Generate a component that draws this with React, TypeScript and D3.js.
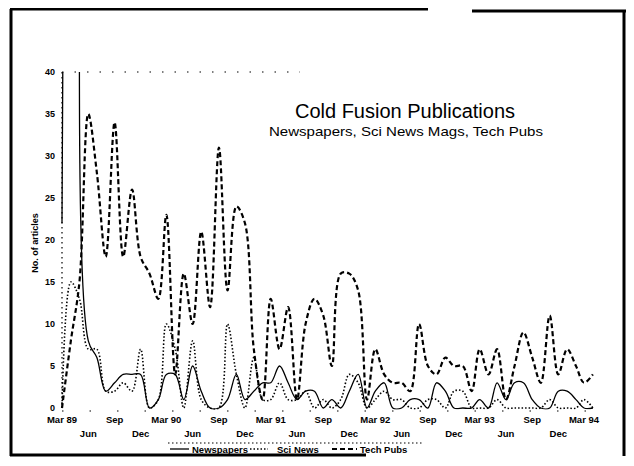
import React, { useEffect, useRef } from 'react';
import * as d3 from 'd3';

// monthly article counts, Mar 89 .. Apr 94
const newspapers = [22, 130, 100, 8, 6, 2, 3, 4, 4, 4, 0, 1, 4, 4, 1, 5, 2, 0, 0, 1, 4, 1, 2, 3, 3, 5, 3, 1, 2, 2, 0, 1, 0, 2, 4, 0, 2, 3, 0, 0, 1, 1, 0, 3, 2, 0, 0, 0, 1, 0, 3, 1, 3, 3, 1, 0, 0, 2, 2, 1, 0, 0];
const sciNews = [0, 15, 13, 7, 7, 2, 2, 3, 2, 7, 0, 1, 10, 7, 0, 8, 1, 0, 0, 10, 4, 0, 6, 1, 1, 3, 1, 1, 2, 0, 1, 0, 1, 4, 3, 0, 1, 2, 1, 1, 0, 0, 1, 1, 0, 2, 2, 0, 0, 0, 1, 0, 0, 0, 0, 0, 1, 0, 0, 0, 1, 0];
const techPubs = [0, 8, 15, 35, 28, 18, 34, 18, 26, 18, 16, 13, 23, 4, 16, 10, 21, 12, 31, 14, 24, 22, 7, 1, 13, 7, 12, 1, 10, 13, 11, 5, 16, 16, 14, 1, 7, 4, 3, 3, 2, 10, 5, 4, 6, 5, 5, 2, 7, 4, 7, 1, 5, 9, 6, 3, 11, 4, 7, 5, 3, 4];

const yTicks = [0, 5, 10, 15, 20, 25, 30, 35, 40];
const tickLabels = ['Mar 89', 'Jun', 'Sep', 'Dec', 'Mar 90', 'Jun', 'Sep', 'Dec', 'Mar 91', 'Jun', 'Sep', 'Dec', 'Mar 92', 'Jun', 'Sep', 'Dec', 'Mar 93', 'Jun', 'Sep', 'Dec', 'Mar 94'];

const series = [
  { name: 'Newspapers', values: newspapers, dash: null, width: 1.3 },
  { name: 'Sci News', values: sciNews, dash: '1.5,2', width: 1.6 },
  { name: 'Tech Pubs', values: techPubs, dash: '5,3', width: 2.2 },
];

const start = new Date(1989, 2, 1);

const Chart = () => {
  const svgRef = useRef<SVGSVGElement>(null);

  useEffect(() => {
    const svg = d3.select(svgRef.current);
    svg.selectAll('*').remove();

    const x = d3
      .scaleTime()
      .domain([start, d3.timeMonth.offset(start, 60)])
      .range([62, 584]);
    const y = d3.scaleLinear().domain([0, 40]).range([408, 72]);

    // scanned frame
    const frame = svg.append('g').attr('stroke', '#000').attr('stroke-width', 3);
    frame.append('line').attr('x1', 11).attr('y1', 9).attr('x2', 11).attr('y2', 456);
    frame.append('line').attr('x1', 10).attr('y1', 9).attr('x2', 428).attr('y2', 9);
    frame.append('line').attr('x1', 472).attr('y1', 11).attr('x2', 626).attr('y2', 11);
    frame.append('line').attr('x1', 624).attr('y1', 10).attr('x2', 624).attr('y2', 456);
    frame.append('line').attr('x1', 10).attr('y1', 455).attr('x2', 366).attr('y2', 455);

    svg
      .append('defs')
      .append('clipPath')
      .attr('id', 'plot')
      .append('rect')
      .attr('x', 55)
      .attr('y', y(40))
      .attr('width', 560)
      .attr('height', y(0) - y(40) + 1.5);

    // axes (dotted, as in the scan)
    svg
      .append('line')
      .attr('x1', x(start)).attr('x2', x(start))
      .attr('y1', y(40)).attr('y2', y(0))
      .attr('stroke', '#000').attr('stroke-width', 1.2)
      .attr('stroke-dasharray', '1.5,3.5');
    svg
      .append('line')
      .attr('x1', x(start)).attr('x2', 300)
      .attr('y1', y(40)).attr('y2', y(40))
      .attr('stroke', '#000').attr('stroke-width', 1.2)
      .attr('stroke-dasharray', '1.5,11');
    svg
      .append('line')
      .attr('x1', x(start)).attr('x2', 592)
      .attr('y1', y(0) + 3).attr('y2', y(0) + 3)
      .attr('stroke', '#000').attr('stroke-width', 1.2)
      .attr('stroke-dasharray', '1.5,26');

    svg
      .append('g')
      .selectAll('text')
      .data(yTicks)
      .join('text')
      .attr('x', 55)
      .attr('y', (d) => y(d))
      .attr('dy', '0.35em')
      .attr('text-anchor', 'end')
      .attr('font-family', 'Liberation Sans, Arial, sans-serif')
      .attr('font-weight', 'bold')
      .attr('font-size', 9)
      .text((d) => d);

    svg
      .append('text')
      .attr('transform', 'translate(38,243) rotate(-90)')
      .attr('text-anchor', 'middle')
      .attr('font-family', 'Liberation Sans, Arial, sans-serif')
      .attr('font-weight', 'bold')
      .attr('font-size', 9)
      .text('No. of articles');

    // quarterly ticks starting at March
    const ticks = d3.timeMonth.range(start, d3.timeMonth.offset(start, 61), 3);
    svg
      .append('g')
      .selectAll('text')
      .data(ticks)
      .join('text')
      .attr('x', (d) => x(d))
      .attr('y', (d, i) => (i % 2 === 0 ? 422.5 : 436.5))
      .attr('text-anchor', 'middle')
      .attr('font-family', 'Liberation Sans, Arial, sans-serif')
      .attr('font-weight', 'bold')
      .attr('font-size', 9.5)
      .text((d, i) => tickLabels[i]);

    const line = d3
      .line<number>()
      .x((d, i) => x(d3.timeMonth.offset(start, i)))
      .y((d) => y(d))
      .curve(d3.curveCatmullRom.alpha(0.5));

    const lines = svg.append('g').attr('clip-path', 'url(#plot)');
    series.forEach((s) => {
      lines
        .append('path')
        .datum(s.values)
        .attr('fill', 'none')
        .attr('stroke', '#000')
        .attr('stroke-width', s.width)
        .attr('stroke-dasharray', s.dash)
        .attr('d', line);
    });

    svg
      .append('text')
      .attr('x', 405)
      .attr('y', 118)
      .attr('text-anchor', 'middle')
      .attr('font-family', 'Liberation Sans, Arial, sans-serif')
      .attr('font-size', 20)
      .text('Cold Fusion Publications');
    svg
      .append('text')
      .attr('x', 269)
      .attr('y', 135.5)
      .attr('textLength', 274)
      .attr('lengthAdjust', 'spacingAndGlyphs')
      .attr('font-family', 'Liberation Sans, Arial, sans-serif')
      .attr('font-size', 13.5)
      .text('Newspapers, Sci News Mags, Tech Pubs');

    // legend
    svg
      .append('line')
      .attr('x1', 168).attr('x2', 423)
      .attr('y1', 443).attr('y2', 443)
      .attr('stroke', '#000').attr('stroke-width', 1.2)
      .attr('stroke-dasharray', '1.5,2.5');
    const legendPos = [
      { x1: 170, x2: 189, tx: 192 },
      { x1: 250, x2: 268, tx: 277 },
      { x1: 332, x2: 357, tx: 360 },
    ];
    series.forEach((s, i) => {
      const p = legendPos[i];
      svg
        .append('line')
        .attr('x1', p.x1).attr('x2', p.x2)
        .attr('y1', 449).attr('y2', 449)
        .attr('stroke', '#000')
        .attr('stroke-width', s.width)
        .attr('stroke-dasharray', s.dash);
      svg
        .append('text')
        .attr('x', p.tx)
        .attr('y', 452.5)
        .attr('font-family', 'Liberation Sans, Arial, sans-serif')
        .attr('font-weight', 'bold')
        .attr('font-size', 9.5)
        .text(s.name);
    });
  }, []);

  return <svg ref={svgRef} width={634} height={466} style={{ display: 'block', background: '#fff' }}></svg>;
};

export default function App() {
  return (
    <div style={{ margin: -8 }}>
      <Chart />
    </div>
  );
}
